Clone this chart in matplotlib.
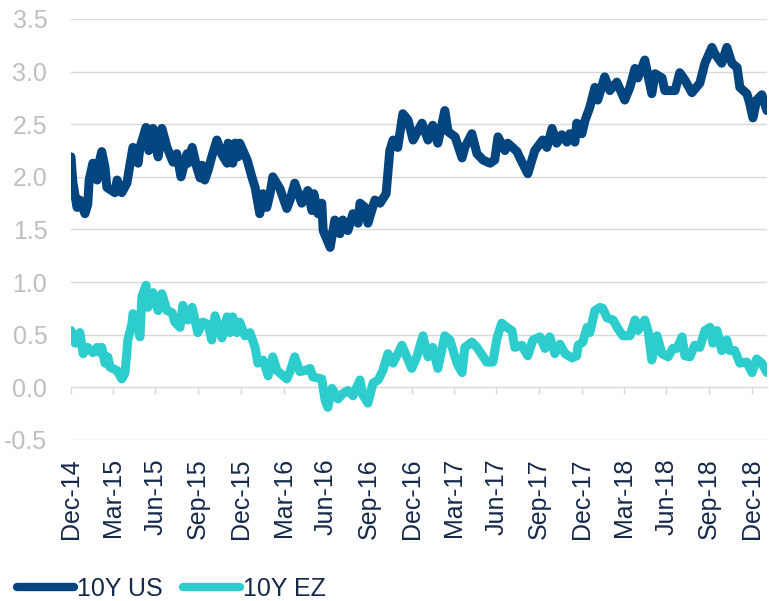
import pandas as pd
import matplotlib.pyplot as plt
import matplotlib.dates as mdates

plt.rcParams['font.family'] = ['Liberation Sans', 'DejaVu Sans']

# 10Y US yield
us_dates = ['2014-12-31', '2015-01-04', '2015-01-13', '2015-01-19', '2015-01-30', '2015-02-05',
            '2015-02-08', '2015-02-16', '2015-02-25', '2015-03-01', '2015-03-07', '2015-03-14',
            '2015-03-18', '2015-04-04', '2015-04-09', '2015-04-19', '2015-04-30', '2015-05-07',
            '2015-05-13', '2015-05-24', '2015-05-28', '2015-06-10', '2015-06-16', '2015-06-25',
            '2015-07-06', '2015-07-14', '2015-07-25', '2015-08-07', '2015-08-15', '2015-08-24',
            '2015-09-06', '2015-09-08', '2015-09-17', '2015-09-27', '2015-10-04', '2015-10-08',
            '2015-10-14', '2015-10-21', '2015-10-29', '2015-11-09', '2015-11-20', '2015-12-01',
            '2015-12-03', '2015-12-13', '2015-12-18', '2015-12-24', '2015-12-28', '2016-01-13',
            '2016-01-23', '2016-01-30', '2016-02-09', '2016-02-16', '2016-02-24', '2016-03-02',
            '2016-03-08', '2016-03-23', '2016-04-07', '2016-04-14', '2016-04-24', '2016-05-09',
            '2016-05-22', '2016-05-31', '2016-06-04', '2016-06-13', '2016-06-21', '2016-06-24',
            '2016-07-09', '2016-07-19', '2016-07-30', '2016-08-05', '2016-08-16', '2016-08-27',
            '2016-09-07', '2016-09-11', '2016-09-22', '2016-09-28', '2016-10-13', '2016-10-24',
            '2016-11-06', '2016-11-14', '2016-11-21', '2016-12-01', '2016-12-12', '2016-12-23',
            '2017-01-03', '2017-01-22', '2017-02-04', '2017-02-14', '2017-02-25', '2017-03-12',
            '2017-03-19', '2017-04-03', '2017-04-18', '2017-04-24', '2017-05-09', '2017-05-20',
            '2017-06-02', '2017-06-17', '2017-06-27', '2017-07-04', '2017-07-19', '2017-07-25',
            '2017-08-14', '2017-08-20', '2017-09-06', '2017-09-21', '2017-10-08', '2017-10-17',
            '2017-10-28', '2017-11-07', '2017-11-18', '2017-11-29', '2017-12-05', '2017-12-16',
            '2017-12-20', '2017-12-31', '2018-01-07', '2018-01-17', '2018-01-28', '2018-02-03',
            '2018-02-18', '2018-03-01', '2018-03-16', '2018-04-02', '2018-04-13', '2018-04-24',
            '2018-04-30', '2018-05-15', '2018-05-30', '2018-06-06', '2018-06-21', '2018-06-27',
            '2018-07-19', '2018-07-29', '2018-08-09', '2018-08-24', '2018-09-10', '2018-09-21',
            '2018-10-06', '2018-10-12', '2018-10-27', '2018-11-07', '2018-11-18', '2018-11-29',
            '2018-12-05', '2018-12-20', '2018-12-26', '2019-01-02', '2019-01-10', '2019-01-21',
            '2019-02-01']
us_yield = [2.19, 1.95, 1.71, 1.78, 1.65, 1.74,
            1.97, 2.13, 1.97, 2.13, 2.24, 2.09,
            1.90, 1.85, 1.97, 1.85, 1.94, 2.13,
            2.28, 2.13, 2.28, 2.47, 2.25, 2.46,
            2.19, 2.46, 2.28, 2.14, 2.22, 2.00,
            2.22, 2.13, 2.28, 2.09, 1.99, 2.11,
            1.97, 2.06, 2.19, 2.35, 2.21, 2.13,
            2.32, 2.13, 2.32, 2.19, 2.32, 2.16,
            2.00, 1.90, 1.65, 1.84, 1.71, 1.84,
            2.00, 1.89, 1.70, 1.78, 1.94, 1.75,
            1.87, 1.68, 1.84, 1.65, 1.75, 1.49,
            1.33, 1.59, 1.46, 1.59, 1.49, 1.65,
            1.56, 1.75, 1.71, 1.56, 1.78, 1.75,
            1.84, 2.25, 2.35, 2.28, 2.60, 2.54,
            2.35, 2.51, 2.35, 2.49, 2.32, 2.63,
            2.43, 2.38, 2.18, 2.28, 2.41, 2.22,
            2.16, 2.13, 2.16, 2.38, 2.25, 2.32,
            2.24, 2.18, 2.03, 2.25, 2.35, 2.28,
            2.46, 2.32, 2.40, 2.33, 2.41, 2.33,
            2.51, 2.41, 2.54, 2.66, 2.85, 2.73,
            2.95, 2.82, 2.90, 2.73, 2.85, 3.03,
            2.94, 3.11, 2.79, 2.98, 2.94, 2.82,
            2.82, 2.99, 2.92, 2.80, 2.89, 3.08,
            3.23, 3.17, 3.08, 3.23, 3.08, 3.04,
            2.85, 2.79, 2.70, 2.56, 2.73, 2.78,
            2.63]

# 10Y EZ yield
ez_dates = ['2014-12-31', '2015-01-09', '2015-01-19', '2015-01-26', '2015-02-05', '2015-02-16',
            '2015-02-25', '2015-03-03', '2015-03-07', '2015-03-14', '2015-03-20', '2015-03-25',
            '2015-04-09', '2015-04-19', '2015-04-26', '2015-05-02', '2015-05-11', '2015-05-13',
            '2015-05-22', '2015-05-28', '2015-06-01', '2015-06-10', '2015-06-14', '2015-06-25',
            '2015-07-06', '2015-07-14', '2015-07-25', '2015-08-05', '2015-08-11', '2015-08-22',
            '2015-08-28', '2015-09-08', '2015-09-17', '2015-09-29', '2015-10-10', '2015-10-21',
            '2015-10-29', '2015-11-05', '2015-11-20', '2015-12-01', '2015-12-07', '2015-12-13',
            '2015-12-22', '2015-12-28', '2016-01-08', '2016-01-19', '2016-01-30', '2016-02-05',
            '2016-02-16', '2016-02-27', '2016-03-08', '2016-03-17', '2016-04-07', '2016-04-14',
            '2016-04-24', '2016-05-05', '2016-05-16', '2016-05-27', '2016-06-02', '2016-06-21',
            '2016-06-28', '2016-07-04', '2016-07-13', '2016-07-26', '2016-08-05', '2016-08-16',
            '2016-08-27', '2016-09-11', '2016-09-17', '2016-09-28', '2016-10-09', '2016-10-20',
            '2016-10-30', '2016-11-10', '2016-11-21', '2016-12-10', '2016-12-31', '2017-01-11',
            '2017-01-24', '2017-02-04', '2017-02-14', '2017-02-25', '2017-03-12', '2017-03-23',
            '2017-04-07', '2017-04-18', '2017-04-24', '2017-05-09', '2017-05-20', '2017-06-10',
            '2017-06-23', '2017-07-02', '2017-07-12', '2017-07-23', '2017-08-03', '2017-08-09',
            '2017-08-24', '2017-09-06', '2017-09-17', '2017-10-02', '2017-10-13', '2017-10-23',
            '2017-11-03', '2017-11-14', '2017-11-25', '2017-12-10', '2017-12-20', '2017-12-23',
            '2018-01-02', '2018-01-11', '2018-01-17', '2018-01-28', '2018-02-08', '2018-02-14',
            '2018-02-23', '2018-03-08', '2018-03-18', '2018-03-29', '2018-04-13', '2018-04-24',
            '2018-04-30', '2018-05-15', '2018-05-22', '2018-05-30', '2018-06-10', '2018-06-21',
            '2018-07-04', '2018-07-14', '2018-07-23', '2018-08-03', '2018-08-09', '2018-08-20',
            '2018-08-30', '2018-09-10', '2018-09-21', '2018-10-02', '2018-10-08', '2018-10-17',
            '2018-10-27', '2018-11-07', '2018-11-13', '2018-11-24', '2018-12-05', '2018-12-20',
            '2018-12-31', '2019-01-10', '2019-01-21', '2019-02-01']
ez_yield = [0.54, 0.42, 0.52, 0.32, 0.38, 0.33,
            0.38, 0.33, 0.38, 0.23, 0.29, 0.19,
            0.16, 0.08, 0.14, 0.45, 0.61, 0.70,
            0.61, 0.48, 0.86, 0.97, 0.76, 0.90,
            0.73, 0.89, 0.73, 0.71, 0.62, 0.57,
            0.78, 0.64, 0.76, 0.52, 0.62, 0.60,
            0.45, 0.68, 0.47, 0.67, 0.52, 0.67,
            0.52, 0.62, 0.49, 0.52, 0.38, 0.23,
            0.26, 0.11, 0.29, 0.16, 0.08, 0.15,
            0.29, 0.15, 0.16, 0.18, 0.10, 0.08,
            -0.12, -0.19, -0.01, -0.11, -0.06, -0.03,
            -0.08, 0.07, -0.07, -0.15, 0.04, 0.07,
            0.16, 0.32, 0.23, 0.40, 0.18, 0.29,
            0.49, 0.29, 0.38, 0.18, 0.49, 0.45,
            0.23, 0.14, 0.38, 0.43, 0.38, 0.24,
            0.24, 0.47, 0.61, 0.57, 0.54, 0.38,
            0.40, 0.30, 0.45, 0.48, 0.37, 0.48,
            0.32, 0.41, 0.32, 0.28, 0.30, 0.40,
            0.43, 0.57, 0.52, 0.73, 0.76, 0.75,
            0.66, 0.64, 0.56, 0.49, 0.49, 0.64,
            0.54, 0.64, 0.54, 0.26, 0.49, 0.32,
            0.29, 0.37, 0.37, 0.48, 0.30, 0.29,
            0.40, 0.38, 0.54, 0.57, 0.42, 0.54,
            0.35, 0.45, 0.35, 0.35, 0.23, 0.24,
            0.14, 0.27, 0.23, 0.14]

tick_dates = pd.date_range('2014-12-31', '2018-12-31', freq='3ME')
tick_labels = [d.strftime('%b-%y') for d in tick_dates]

navy = '#03457F'
teal = '#2ECDCD'
grid = '#D9D9D9'
text_dark = '#17294A'

fig = plt.figure(figsize=(7.69, 6.01), dpi=100)
ax = fig.add_axes([0.0923, 0.2679, 0.905, 0.7005])

ax.plot(pd.to_datetime(us_dates), us_yield, color=navy, lw=6.5, label='10Y US',
        solid_capstyle='round', solid_joinstyle='round')
ax.plot(pd.to_datetime(ez_dates), ez_yield, color=teal, lw=6.5, label='10Y EZ',
        solid_capstyle='round', solid_joinstyle='round')

ax.set_ylim(-0.5, 3.5)
ax.set_yticks([-0.5, 0.0, 0.5, 1.0, 1.5, 2.0, 2.5, 3.0, 3.5])
ax.yaxis.set_major_formatter(plt.FormatStrFormatter('%.1f'))
ax.set_xlim(pd.Timestamp('2014-12-31'), pd.Timestamp('2019-02-01'))
ax.set_xticks(tick_dates)
ax.set_xticklabels(tick_labels, rotation=90)

ax.grid(axis='y', color=grid, lw=1.0)
ax.set_axisbelow(True)
for s in ax.spines.values():
    s.set_visible(False)
ax.tick_params(axis='y', length=0, pad=17, labelsize=18, labelcolor='#BFBFBF')
ax.tick_params(axis='x', length=0, pad=13, labelsize=18, labelcolor=text_dark)

# axis line with tick marks sits on the zero line
zero_frac = (0 - (-0.5)) / (3.5 - (-0.5))
sec = ax.secondary_xaxis(zero_frac)
sec.set_xticks(mdates.date2num(tick_dates))
sec.set_xticklabels([])
sec.tick_params(axis='x', direction='out', length=5, width=1, color=grid)
sec.spines['bottom'].set_color(grid)

leg = fig.legend(loc='center left', bbox_to_anchor=(0.022, 0.02), ncol=2, frameon=False,
                 fontsize=18, labelcolor=text_dark, handlelength=2.3, handletextpad=0.1,
                 columnspacing=0.8, borderpad=0, borderaxespad=0)
for h in leg.get_lines():
    h.set_linewidth(6)
    h.set_solid_capstyle('round')

fig.savefig('out.png', dpi=100)
